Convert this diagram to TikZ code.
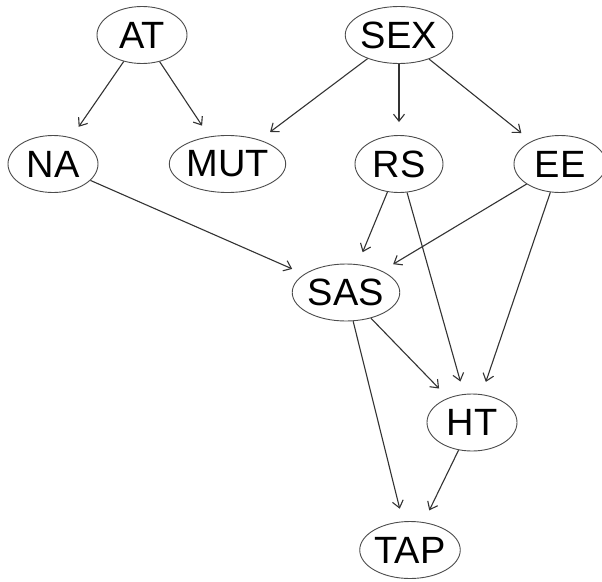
\documentclass[tikz,border=0pt]{standalone}
\usepackage{fontspec}
\setmainfont{Liberation Sans}
\usetikzlibrary{shapes.geometric,arrows.meta}
\begin{document}
\begin{tikzpicture}[x=1pt,y=-1pt,
  nd/.style={ellipse,draw=black!70,line width=0.9pt,inner sep=0pt,
    minimum height=57pt,font=\fontsize{38}{38}\selectfont},
  ed/.style={draw=black!80,line width=1.1pt,
    -{Straight Barb[length=7pt,width=11pt,line width=1.1pt]},shorten >=13pt}]
\useasboundingbox (0,0) rectangle (602,581);
\fill[white] (0,0) rectangle (602,581);
\node[nd,minimum width=90pt]  (AT)  at (142,35)    {AT};
\node[nd,minimum width=96pt]  (SEX) at (399,35)    {SEX};
\node[nd,minimum width=90pt]  (NA)  at (53,164)    {NA};
\node[nd,minimum width=105pt] (MUT) at (227.5,164) {MUT};
\node[nd,minimum width=88pt]  (RS)  at (399,164)   {RS};
\node[nd,minimum width=92pt]  (EE)  at (560,164)   {EE};
\node[nd,minimum width=90pt]  (SAS) at (346,292.5) {SAS};
\node[nd,minimum width=90pt]  (HT)  at (472,422.5) {HT};
\node[nd,minimum width=96pt]  (TAP) at (410,550)   {TAP};
\draw[ed] (AT) -- (NA);
\draw[ed] (AT) -- (MUT);
\draw[ed] (SEX) -- (MUT);
\draw[ed] (SEX) -- (RS);
\draw[ed] (SEX) -- (EE);
\draw[ed] (NA) -- (SAS);
\draw[ed] (RS) -- (SAS);
\draw[ed] (RS) -- (HT);
\draw[ed] (EE) -- (SAS);
\draw[ed] (EE) -- (HT);
\draw[ed] (SAS) -- (HT);
\draw[ed] (SAS) -- (TAP);
\draw[ed] (HT) -- (TAP);
\end{tikzpicture}
\end{document}
